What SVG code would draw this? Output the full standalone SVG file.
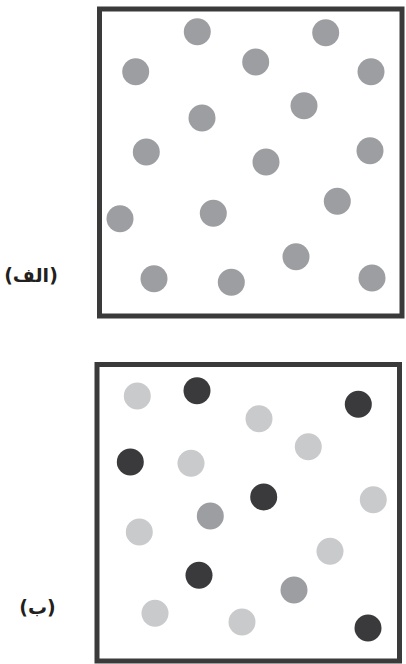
<svg xmlns="http://www.w3.org/2000/svg" width="406" height="664" viewBox="0 0 406 664">
<style>
.frame{fill:#fff;stroke:#3a3a3a;stroke-width:5}
.m{fill:#9d9ea2}
.l{fill:#c9cacc}
.d{fill:#3a3a3c}
.lbl{font-family:"DejaVu Sans",sans-serif;font-weight:bold;font-size:19px;fill:#231f20;text-anchor:middle}
</style>
<rect width="406" height="664" fill="#fff"/>
<g id="panel-a">
<rect class="frame" x="99.5" y="9" width="302.5" height="307"/>
<g>
<circle class="m" cx="197.3" cy="31.7" r="13.5"/>
<circle class="m" cx="325.7" cy="32.7" r="13.5"/>
<circle class="m" cx="135.7" cy="71.7" r="13.5"/>
<circle class="m" cx="255.7" cy="62" r="13.5"/>
<circle class="m" cx="371" cy="71.7" r="13.5"/>
<circle class="m" cx="304" cy="105.7" r="13.5"/>
<circle class="m" cx="202" cy="118" r="13.5"/>
<circle class="m" cx="146.3" cy="152" r="13.5"/>
<circle class="m" cx="266" cy="162" r="13.5"/>
<circle class="m" cx="370" cy="150.7" r="13.5"/>
<circle class="m" cx="120" cy="218.7" r="13.5"/>
<circle class="m" cx="213.3" cy="213.3" r="13.5"/>
<circle class="m" cx="337.3" cy="201.3" r="13.5"/>
<circle class="m" cx="296" cy="256.7" r="13.5"/>
<circle class="m" cx="154" cy="278.7" r="13.5"/>
<circle class="m" cx="231.3" cy="282.3" r="13.5"/>
<circle class="m" cx="372" cy="278" r="13.5"/>
</g>
<text class="lbl" x="31" y="282">(الف)</text>
</g>
<g id="panel-b">
<rect class="frame" x="97" y="364.5" width="302.5" height="296.5"/>
<g>
<circle class="l" cx="137.3" cy="396" r="13.5"/>
<circle class="l" cx="259" cy="418.7" r="13.5"/>
<circle class="l" cx="308.3" cy="446.7" r="13.5"/>
<circle class="l" cx="191" cy="463.3" r="13.5"/>
<circle class="l" cx="373.3" cy="499.7" r="13.5"/>
<circle class="l" cx="139.3" cy="532" r="13.5"/>
<circle class="l" cx="330" cy="551.3" r="13.5"/>
<circle class="l" cx="155" cy="613.3" r="13.5"/>
<circle class="l" cx="242" cy="622" r="13.5"/>
<circle class="d" cx="197" cy="390.7" r="13.5"/>
<circle class="d" cx="358.3" cy="404.3" r="13.5"/>
<circle class="d" cx="130.3" cy="462" r="13.5"/>
<circle class="d" cx="263.7" cy="497" r="13.5"/>
<circle class="d" cx="199" cy="575.3" r="13.5"/>
<circle class="d" cx="368" cy="628" r="13.5"/>
<circle class="m" cx="210.3" cy="516" r="13.5"/>
<circle class="m" cx="294" cy="590" r="13.5"/>
</g>
<text class="lbl" x="37.5" y="614">(ب)</text>
</g>
</svg>
